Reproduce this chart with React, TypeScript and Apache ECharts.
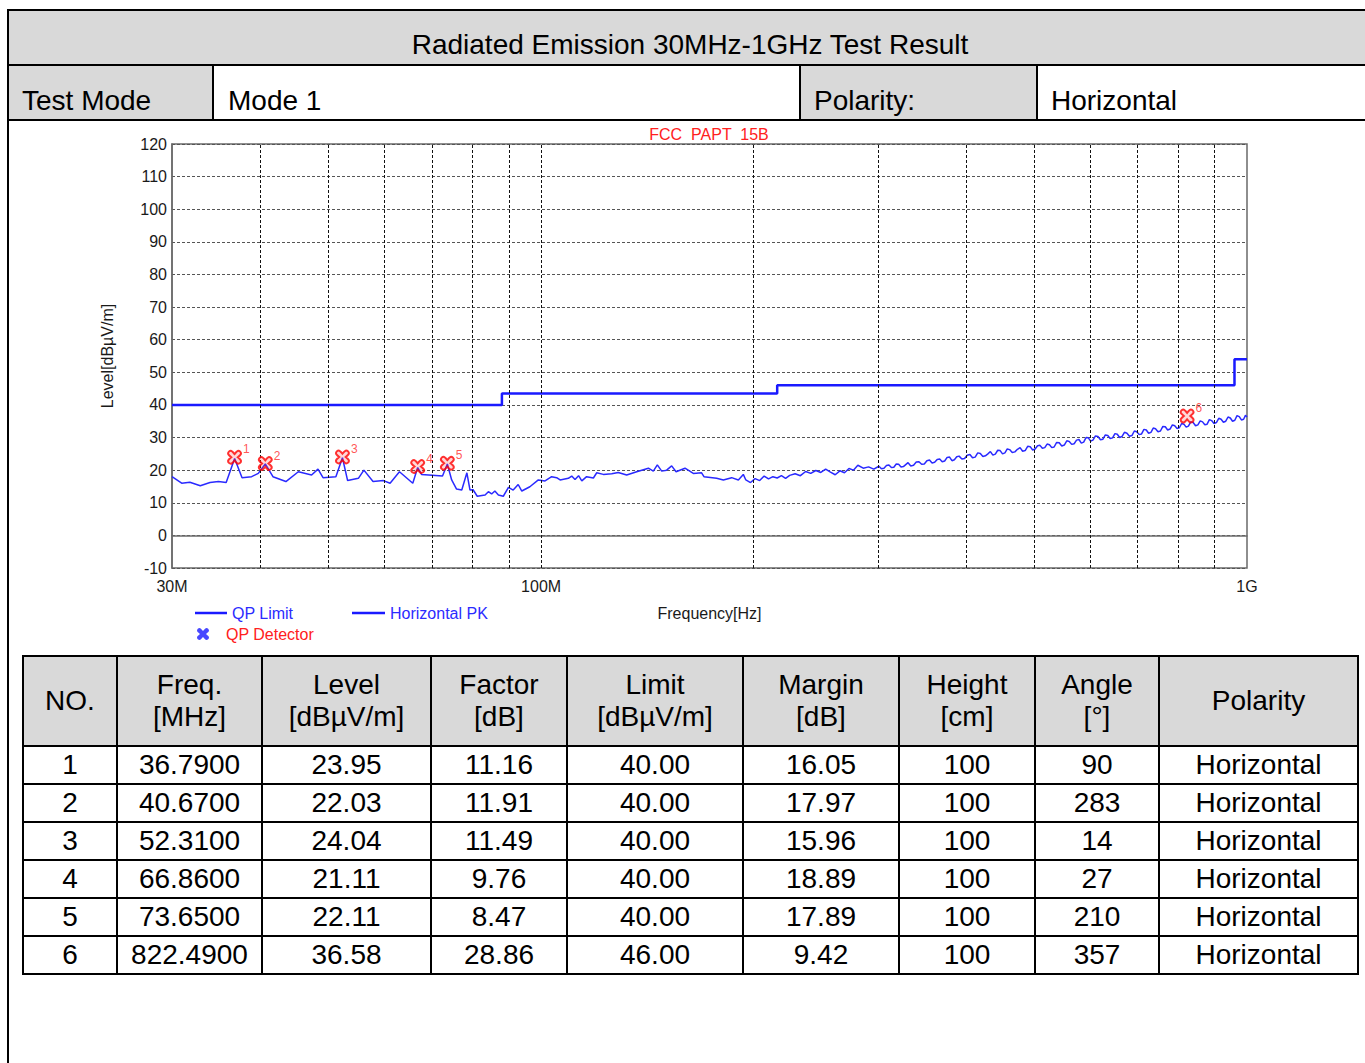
import React, { useEffect, useRef } from 'react';
import * as echarts from 'echarts';

const FONT = "'Liberation Sans', Arial, Helvetica, sans-serif";

// ---------- header texts ----------
const reportTitle = 'Radiated Emission 30MHz-1GHz Test Result';
const infoLabels = ['Test Mode', 'Mode 1', 'Polarity:', 'Horizontal'];

// ---------- chart texts ----------
const chartTitle = 'FCC  PAPT  15B';
const yAxisName = 'Level[dBµV/m]';
const xAxisName = 'Frequency[Hz]';

// ---------- axis values ----------
const yMin = -10;
const yMax = 120;
const yStep = 10;
const xMin = 30;
const xMax = 1000;
const gridFreqs = [40, 50, 60, 70, 80, 90, 100, 200, 300, 400, 500, 600, 700, 800, 900];

// ---------- QP limit (FCC Part 15B, 3 m) ----------
const limitFreqs = [30, 88, 88, 216, 216, 960, 960, 1000];
const limitLevels = [40, 40, 43.5, 43.5, 46, 46, 54, 54];

// ---------- peak trace (MHz / dBµV/m) ----------
const pkFreqs = [
  30, 30.96, 31.8, 32.9, 33.96, 34.9, 35.8, 36.8, 37.7, 38.9,
  39.75, 40.67, 41.7, 43.5, 45.3, 47.3, 48.3, 49.1, 51.2, 52.31,
  53.2, 55.1, 56.1, 57.8, 59.8, 61.1, 63.0, 65.8, 66.86, 67.7,
  72.5, 73.65, 74.7, 75.9, 77.2, 78.5, 79.3, 80.1, 81.2, 83.3,
  84.2, 85.1, 86.0, 87.0, 88.4, 89.9, 91.3, 92.8, 93.9, 96.4,
  99.1, 101.3, 103.5, 105.2, 106.4, 109.3, 110.5, 111.7, 113.0, 114.2,
  116.0, 118.6, 119.9, 122.5, 125.9, 128.6, 132.2, 136.6, 141.9, 144.2,
  146.1, 148.2, 150.6, 153.1, 155.3, 159.9, 164.3, 168.8, 170.1, 177.3,
  181.2, 186.2, 190.3, 193.4,
  195, 198, 201, 204, 207, 210, 213, 216, 219, 222,
  225, 229, 233, 237, 241, 245, 249, 253, 257, 261,
  265, 269, 273, 277, 281, 286, 291, 296,
  301, 303.5, 306, 308.5, 311, 313.5, 316, 318.5, 321, 323.5,
  326, 328.5, 331, 334, 337, 340, 343, 346, 349, 352,
  355, 358, 361, 364, 367, 370, 373, 376, 379, 382,
  385, 388, 391, 394.5, 398, 401.5, 405, 408.5, 412, 415.5,
  419, 422.5, 426, 429.5, 433, 436.5, 440, 443.5, 447, 450.5,
  454, 457.5, 461, 465, 469, 473, 477, 481, 485, 489,
  493, 497, 501, 505, 509, 513, 517, 521, 525, 529,
  533, 537.5, 542, 546.5, 551, 555.5, 560, 564.5, 569, 573.5,
  578, 582.5, 587, 591.5, 596, 600.5, 605, 610, 615, 620,
  625, 630, 635, 640, 645, 650, 655, 660, 665, 670.5,
  676, 681.5, 687, 692.5, 698, 703.5, 709, 714.5, 720, 725.5,
  731, 736.5, 742, 748, 754, 760, 766, 772, 778, 784,
  790, 796, 802, 808, 814, 820, 826, 832.5, 839, 845.5,
  852, 858.5, 865, 871.5, 878, 884.5, 891, 898, 905, 912,
  919, 926, 933, 940, 947, 954, 961, 968, 975, 982,
  989, 995, 1000,
];
const pkLevels = [
  18.0, 16.0, 16.3, 15.2, 16.2, 16.5, 16.2, 23.6, 17.7, 18.0,
  19.0, 21.9, 18.0, 16.5, 19.5, 18.5, 20.3, 17.7, 18.0, 23.8,
  16.8, 17.5, 20.0, 16.5, 16.8, 16.0, 19.5, 16.0, 20.8, 18.7,
  18.2, 21.9, 17.0, 14.2, 13.9, 19.2, 13.9, 14.0, 12.0, 12.4,
  13.4, 12.7, 13.6, 12.4, 12.0, 14.7, 13.9, 15.6, 13.6, 14.9,
  17.0, 16.7, 18.0, 17.7, 17.0, 17.5, 18.2, 17.1, 18.3, 16.7,
  18.0, 17.6, 19.2, 18.7, 18.9, 19.3, 18.5, 19.5, 20.6, 19.7,
  21.6, 19.7, 20.0, 21.3, 19.5, 20.6, 19.0, 19.2, 18.0, 17.5,
  17.0, 17.7, 17.0, 18.7,
  17.0, 16.2, 17.4, 16.8, 18.2, 17.3, 18.0, 17.6, 18.3, 17.5,
  18.4, 18.9, 18.3, 19.6, 19.0, 19.9, 19.3, 20.3, 19.4, 18.6,
  19.8, 19.2, 20.5, 20.0, 21.5, 20.6, 21.0, 20.3,
  21.2, 20.4, 20.6, 21.4, 21.6, 20.8, 20.9, 21.9, 21.8, 21.0,
  21.1, 21.7, 22.3, 21.3, 21.5, 22.5, 22.6, 21.8, 21.9, 22.9,
  23.1, 22.2, 22.4, 23.3, 23.4, 22.6, 22.8, 23.9, 24.0, 22.9,
  23.2, 24.1, 24.3, 23.4, 23.6, 24.6, 24.8, 23.8, 24.0, 25.3,
  25.1, 24.2, 24.4, 25.0, 25.7, 24.6, 24.9, 26.1, 26.0, 25.0,
  25.3, 26.5, 26.3, 25.4, 25.6, 26.4, 26.9, 25.8, 26.0, 27.3,
  27.2, 26.2, 26.5, 27.5, 27.6, 26.7, 26.9, 28.0, 27.8, 26.9,
  27.1, 28.5, 28.4, 27.4, 27.7, 29.0, 28.8, 27.9, 28.1, 29.2,
  29.4, 28.3, 28.6, 30.0, 29.9, 28.9, 29.2, 30.5, 30.3, 29.3,
  29.5, 30.8, 30.6, 29.7, 29.9, 31.2, 31.0, 30.0, 30.3, 31.6,
  31.3, 30.4, 30.6, 32.0, 31.8, 30.9, 31.1, 32.5, 32.3, 31.3,
  31.6, 32.9, 32.7, 31.8, 32.0, 33.4, 33.3, 32.3, 32.6, 33.9,
  33.6, 32.8, 33.0, 34.3, 34.1, 33.2, 33.5, 34.8, 34.6, 33.6,
  33.9, 35.1, 34.8, 33.9, 34.1, 35.5, 35.2, 34.3, 34.6, 35.9,
  35.6, 34.7, 35.0, 36.3, 36.0, 35.0, 35.3, 36.7, 36.4, 35.4,
  35.6, 36.8, 36.3,
];

// ---------- QP detector results ----------
const qpNo = [1, 2, 3, 4, 5, 6];
const qpFreqs = [36.79, 40.67, 52.31, 66.86, 73.65, 822.49];
const qpLevels = [23.95, 22.03, 24.04, 21.11, 22.11, 36.58];
const qpFactors = [11.16, 11.91, 11.49, 9.76, 8.47, 28.86];
const qpLimits = [40.0, 40.0, 40.0, 40.0, 40.0, 46.0];
const qpMargins = [16.05, 17.97, 15.96, 18.89, 17.89, 9.42];
const antHeights = [100, 100, 100, 100, 100, 100];
const turnAngles = [90, 283, 14, 27, 210, 357];
const polarities = ['Horizontal', 'Horizontal', 'Horizontal', 'Horizontal', 'Horizontal', 'Horizontal'];

const tableHeaders = [
  ['NO.'],
  ['Freq.', '[MHz]'],
  ['Level', '[dBµV/m]'],
  ['Factor', '[dB]'],
  ['Limit', '[dBµV/m]'],
  ['Margin', '[dB]'],
  ['Height', '[cm]'],
  ['Angle', '[°]'],
  ['Polarity'],
];

const colWidths = [94, 145, 169, 136, 176, 156, 136, 124, 199];

const X_SYMBOL =
  'path://M3,0 C4,0 5,1 7,3.5 C9,1 10,0 11,0 C12.5,0 14,1.5 14,3 C14,4 13,5 10.5,7 C13,9 14,10 14,11 C14,12.5 12.5,14 11,14 C10,14 9,13 7,10.5 C5,13 4,14 3,14 C1.5,14 0,12.5 0,11 C0,10 1,9 3.5,7 C1,5 0,4 0,3 C0,1.5 1.5,0 3,0 Z';

function buildOption() {
  const n = Math.min(pkFreqs.length, pkLevels.length);
  const pkData: number[][] = [];
  for (let i = 0; i < n; i++) pkData.push([pkFreqs[i], pkLevels[i]]);
  const limitData = limitFreqs.map((f, i) => [f, limitLevels[i]]);
  const qpData = qpFreqs.map((f, i) => ({
    value: [f, qpLevels[i]],
    label: { formatter: String(qpNo[i]) },
  }));

  const textBase = { fontFamily: FONT, color: '#1a1a1a' };

  return {
    animation: false,
    textStyle: { fontFamily: FONT },
    title: {
      text: chartTitle,
      left: 709,
      top: 4,
      padding: 0,
      textAlign: 'center',
      textStyle: { color: '#ff2020', fontSize: 16, fontWeight: 'normal', fontFamily: FONT },
    },
    grid: {
      left: 172,
      top: 22,
      width: 1075,
      height: 424,
      show: true,
      borderColor: '#6a6a6a',
      borderWidth: 1.5,
      backgroundColor: 'transparent',
    },
    xAxis: {
      type: 'log',
      logBase: 10,
      min: xMin,
      max: xMax,
      name: xAxisName,
      nameLocation: 'middle',
      nameGap: 37,
      nameTextStyle: { ...textBase, fontSize: 16 },
      axisLine: { show: true, lineStyle: { color: '#6a6a6a', width: 1.5 } },
      axisTick: { show: false },
      splitLine: { show: false },
      axisLabel: {
        ...textBase,
        fontSize: 16,
        margin: 10,
        showMinLabel: true,
        showMaxLabel: true,
        formatter: (v: number) => {
          const r = Math.round(v);
          return r >= 1000 ? '1G' : r + 'M';
        },
      },
    },
    yAxis: {
      type: 'value',
      min: yMin,
      max: yMax,
      interval: yStep,
      name: yAxisName,
      nameLocation: 'middle',
      nameGap: 57,
      nameRotate: 90,
      nameTextStyle: { ...textBase, fontSize: 16 },
      axisLine: { show: true, lineStyle: { color: '#6a6a6a', width: 1.5 } },
      axisTick: { show: false },
      axisLabel: { ...textBase, fontSize: 16, margin: 5 },
      splitLine: { show: true, lineStyle: { color: '#555', type: [3, 2], width: 1 } },
    },
    legend: [
      {
        data: [{ name: 'QP Limit', icon: 'rect', textStyle: { color: '#2b2bff' } }],
        left: 190,
        top: 478,
        itemWidth: 32,
        itemHeight: 2.5,
        itemStyle: { color: '#1a1aff' },
        textStyle: { fontFamily: FONT, fontSize: 16 },
        selectedMode: false,
      },
      {
        data: [{ name: 'Horizontal PK', icon: 'rect', textStyle: { color: '#2b2bff' } }],
        left: 347,
        top: 478,
        itemWidth: 33,
        itemHeight: 2.5,
        itemStyle: { color: '#1a1aff' },
        textStyle: { fontFamily: FONT, fontSize: 16 },
        selectedMode: false,
      },
      {
        data: [
          {
            name: 'QP Detector',
            itemStyle: { color: '#1a1aff', borderColor: '#1a1aff', borderWidth: 0 },
            textStyle: { color: '#ff2020' },
          },
        ],
        left: 192,
        top: 499,
        itemWidth: 12,
        itemHeight: 12,
        textStyle: { fontFamily: FONT, fontSize: 16, padding: [0, 0, 0, 12] },
        selectedMode: false,
      },
    ],
    series: [
      {
        name: 'QP Limit',
        type: 'line',
        data: limitData,
        symbol: 'none',
        lineStyle: { color: '#1a1aff', width: 2.5 },
        itemStyle: { color: '#1a1aff' },
        z: 3,
        markLine: {
          silent: true,
          symbol: 'none',
          label: { show: false },
          lineStyle: { color: '#111', type: [3, 2], width: 1 },
          data: gridFreqs.map((f) => ({ xAxis: f })),
        },
      },
      {
        name: 'Horizontal PK',
        type: 'line',
        data: pkData,
        symbol: 'none',
        lineStyle: { color: '#2a2aff', width: 1.5 },
        itemStyle: { color: '#2b2bff' },
        z: 4,
      },
      {
        name: 'QP Detector',
        type: 'scatter',
        data: qpData,
        symbol: X_SYMBOL,
        symbolSize: 13,
        itemStyle: { color: 'rgba(255,60,60,0.25)', borderColor: '#ff0000', borderWidth: 2 },
        label: {
          show: true,
          position: 'right',
          distance: 1,
          offset: [0, -8],
          color: '#ff2a2a',
          fontSize: 12,
          fontFamily: FONT,
        },
        z: 5,
      },
    ],
  };
}

const cellText = (extra: React.CSSProperties): React.CSSProperties => ({
  position: 'absolute',
  height: 40,
  lineHeight: '40px',
  fontSize: 28,
  whiteSpace: 'nowrap',
  color: '#000',
  ...extra,
});

export default function App() {
  const ref = useRef<HTMLDivElement>(null);

  useEffect(() => {
    if (!ref.current) return;
    const chart = echarts.init(ref.current, null, { renderer: 'svg' });
    chart.setOption(buildOption() as any);
    return () => chart.dispose();
  }, []);

  const fmt2 = (v: number) => v.toFixed(2);
  const rows = qpNo.map((no, i) => [
    String(no),
    qpFreqs[i].toFixed(4),
    fmt2(qpLevels[i]),
    fmt2(qpFactors[i]),
    fmt2(qpLimits[i]),
    fmt2(qpMargins[i]),
    String(antHeights[i]),
    String(turnAngles[i]),
    polarities[i],
  ]);

  const border = '2px solid #000';

  return (
    <div
      style={{
        position: 'absolute',
        left: 0,
        top: 0,
        width: 1365,
        height: 1063,
        overflow: 'hidden',
        background: '#fff',
        fontFamily: FONT,
      }}
    >
      {/* frame */}
      <div style={{ position: 'absolute', left: 7, top: 9, width: 1400, height: 2, background: '#000' }} />
      <div style={{ position: 'absolute', left: 7, top: 9, width: 2, height: 1100, background: '#000' }} />
      {/* title row */}
      <div style={{ position: 'absolute', left: 9, top: 11, width: 1400, height: 53, background: '#d9d9d9' }} />
      <div style={{ position: 'absolute', left: 7, top: 64, width: 1400, height: 2, background: '#000' }} />
      <div style={cellText({ left: 9, width: 1362, top: 25, textAlign: 'center' })}>{reportTitle}</div>
      {/* info row */}
      <div style={{ position: 'absolute', left: 9, top: 66, width: 204, height: 53, background: '#d9d9d9' }} />
      <div style={{ position: 'absolute', left: 801, top: 66, width: 236, height: 53, background: '#d9d9d9' }} />
      <div style={{ position: 'absolute', left: 212, top: 65, width: 2, height: 55, background: '#000' }} />
      <div style={{ position: 'absolute', left: 799, top: 65, width: 2, height: 55, background: '#000' }} />
      <div style={{ position: 'absolute', left: 1036, top: 65, width: 2, height: 55, background: '#000' }} />
      <div style={{ position: 'absolute', left: 7, top: 119, width: 1400, height: 2, background: '#000' }} />
      <div style={cellText({ left: 22, top: 81 })}>{infoLabels[0]}</div>
      <div style={cellText({ left: 228, top: 81 })}>{infoLabels[1]}</div>
      <div style={cellText({ left: 814, top: 81 })}>{infoLabels[2]}</div>
      <div style={cellText({ left: 1051, top: 81 })}>{infoLabels[3]}</div>

      {/* chart */}
      <div ref={ref} style={{ position: 'absolute', left: 0, top: 122, width: 1365, height: 530 }} />

      {/* results table */}
      <table
        style={{
          position: 'absolute',
          left: 22,
          top: 655,
          width: 1336,
          borderCollapse: 'collapse',
          tableLayout: 'fixed',
          fontFamily: FONT,
          fontSize: 28,
          color: '#000',
        }}
      >
        <colgroup>
          {colWidths.map((w, i) => (
            <col key={i} style={{ width: w }} />
          ))}
        </colgroup>
        <thead>
          <tr style={{ height: 90 }}>
            {tableHeaders.map((h, i) => (
              <th
                key={i}
                style={{
                  border,
                  background: '#d9d9d9',
                  fontWeight: 'normal',
                  padding: 0,
                  lineHeight: '32px',
                  textAlign: 'center',
                  verticalAlign: 'middle',
                }}
              >
                {h.map((t, j) => (
                  <div key={j}>{t}</div>
                ))}
              </th>
            ))}
          </tr>
        </thead>
        <tbody>
          {rows.map((r, i) => (
            <tr key={i} style={{ height: 38 }}>
              {r.map((c, j) => (
                <td
                  key={j}
                  style={{
                    border,
                    padding: 0,
                    lineHeight: '34px',
                    textAlign: 'center',
                    verticalAlign: 'middle',
                  }}
                >
                  {c}
                </td>
              ))}
            </tr>
          ))}
        </tbody>
      </table>
    </div>
  );
}
